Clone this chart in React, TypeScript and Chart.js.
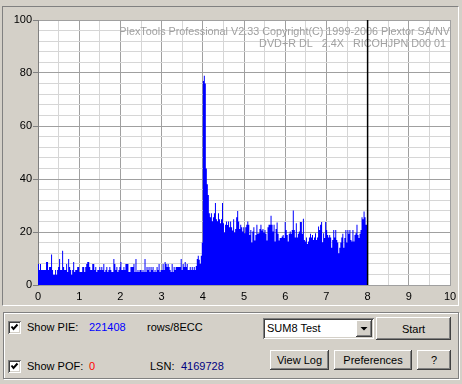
import React, { useEffect, useRef } from "react";
import { Chart, registerables } from "chart.js";

Chart.register(...registerables);

const FONT = '"Liberation Sans", Arial, sans-serif';

// Axis settings
const X_MIN = 0;
const X_MAX = 10;
const X_GRID_STEP = 0.5;
const Y_MIN = 0;
const Y_MAX = 100;
const Y_GRID_STEP = 4;
const Y_LABEL_STEP = 20;

// Scan ranges (in GB) of the two recorded layers
const LAYER0_START = 0;
const LAYER0_END = 4;
const LAYER1_START = 4;
const LAYER1_END = 8;
const CURSOR_X = 8;

// PI errors (SUM8), layer 0: 0 - 4 GB
const PIE_LAYER0 = [
  7.9, 5.7, 7.9, 5.7, 5.7, 5.7, 5.7, 5.7, 8.7, 8.7,
  5.7, 6.8, 6.8, 11.5, 5.7, 3.9, 3.9, 5.7, 3.9, 5.7,
  6.8, 9.8, 5.7, 5.7, 12.9, 6.8, 5.7, 5.7, 7.9, 4.9,
  9.8, 6.8, 5.7, 3.9, 5.7, 8.7, 4.9, 5.7, 5.7, 6.8,
  6.8, 4.9, 4.9, 4.9, 6.8, 6.8, 4.9, 6.8, 7.9, 8.7,
  8.7, 6.8, 5.7, 5.7, 7.9, 7.9, 5.7, 6.8, 4.9, 5.7,
  5.7, 6.8, 5.7, 6.8, 5.7, 7.9, 4.9, 5.7, 6.8, 4.9,
  5.7, 6.8, 5.7, 4.9, 4.9, 9.8, 7.9, 5.7, 6.8, 4.9,
  5.7, 6.8, 8.7, 5.7, 5.7,
  6.8, 5.7, 7.9, 7.9, 7.9, 4.9, 4.9, 6.8, 6.8, 6.8,
  7.9, 4.9, 9.8, 4.9, 5.7, 4.9, 5.7, 5.7, 4.9, 5.7,
  4.9, 9.8, 4.9, 6.8, 5.7, 6.8, 4.9, 6.8, 5.7, 6.8,
  4.9, 5.7, 4.9, 6.8, 5.7, 7.9, 4.9, 5.7, 5.7, 7.9,
  5.7, 8.7, 7.9, 6.8, 7.9, 6.8, 5.7, 4.9, 7.9, 4.9,
  6.8, 5.7, 6.8, 6.8, 6.8, 6.8, 6.8, 9.8, 5.7, 7.9,
  6.8, 8.7, 6.8, 7.9, 5.7, 5.7, 6.8, 5.7, 6.8, 5.7,
  6.8, 5.7, 7.2, 9.8, 11, 9.5, 8, 11, 16,
];

// PI errors (SUM8), layer 1: 4 - 8 GB
const PIE_LAYER1 = [
  77, 79, 76, 44, 38, 34,
  27.1, 25.6, 27.1, 24.1, 25.6, 27.1, 30.9, 24.8, 24.1, 27.1,
  24.8, 23.3, 24.8, 30.9, 23.3, 19.8, 22.7, 24.0, 22.6, 24.0,
  21.8, 24.0, 21.8, 20.6, 24.8, 19.8, 21.1, 25.6, 27.9, 24.0,
  21.1, 22.7, 21.8, 20.2, 21.8, 19.5, 21.8, 22.7, 24.0, 22.7,
  18.9, 20.8, 16.0, 20.2, 21.8, 16.8, 18.9, 22.7, 19.3, 19.5,
  21.1, 22.7, 20.6, 21.1, 19.8, 20.8, 19.3, 16.8, 21.8, 22.7,
  22.7, 26.1, 22.7, 20.2, 22.7, 16.4, 21.1, 23.6, 19.3, 16.8,
  17.7, 17.7, 18.3, 18.9, 17.7, 23.8,
  20.8, 18.9, 16.4, 19.3, 20.2, 19.3, 20.8, 28.1, 20.8, 17.9,
  23.3, 17.9, 19.3, 20.2, 23.8, 23.8, 19.3, 25.0, 17.0, 16.4,
  17.9, 15.5, 16.4, 17.9, 19.3, 17.9, 18.9, 17.0, 17.9, 19.5,
  17.0, 17.9, 22.1, 20.8, 22.7, 23.8, 16.1, 19.5, 17.7, 23.8,
  20.8, 18.9, 17.9, 18.9, 17.9, 14.1, 17.0, 20.8, 17.9, 20.8,
  17.0, 16.0, 12.0, 14.1, 16.0, 17.9, 19.3, 14.1, 17.7, 20.8,
  16.0, 20.8, 19.3, 20.8, 17.0, 16.4, 20.8, 16.4, 18.9, 19.5,
  22.7, 18.9, 17.7, 19.3, 20.8, 25.6, 24.8, 27.7, 25.6, 22.7,
  22.7,
];

const HEADER_LINE_1 = "PlexTools Professional V2.33 Copyright(C) 1999-2006 Plextor SA/NV";
const HEADER_LINE_2 = "DVD+R DL   2.4X   RICOHJPN D00 01";

const PIE_TOTAL = "221408";
const PIE_UNIT = "rows/8ECC";
const POF_TOTAL = "0";
const LSN_VALUE = "4169728";
const TEST_NAME = "SUM8 Test";

function layerPoints(values: number[], start: number, end: number) {
  const step = (end - start) / values.length;
  return values.map((y, i) => ({ x: start + i * step, y }));
}

const CANVAS_W = 462;
const CANVAS_H = 310;

const sunken = {
  boxShadow:
    "inset 1px 1px #808080, inset -1px -1px #ffffff, inset 2px 2px #404040, inset -2px -2px #d4d0c8",
};
const raised = {
  boxShadow:
    "inset -1px -1px #404040, inset 1px 1px #ffffff, inset -2px -2px #808080, inset 2px 2px #d4d0c8",
};

function CheckBox({ left, top }: { left: number; top: number }) {
  return (
    <div
      style={{
        position: "absolute",
        left,
        top,
        width: 13,
        height: 13,
        background: "#fff",
        ...sunken,
      }}
    >
      <svg width={13} height={13} style={{ position: "absolute", left: 0, top: 0 }}>
        <polyline points="3.5,5.5 5.5,8 9.5,3.5" fill="none" stroke="#000" strokeWidth={2} />
      </svg>
    </div>
  );
}

function Button({ left, top, width, height, label }: any) {
  return (
    <div
      style={{
        position: "absolute",
        left,
        top,
        width,
        height,
        background: "#d4d0c8",
        display: "flex",
        alignItems: "center",
        justifyContent: "center",
        color: "#000",
        ...raised,
      }}
    >
      {label}
    </div>
  );
}

function Label({ left, top, text, color }: any) {
  return (
    <div style={{ position: "absolute", left, top, color: color || "#000", lineHeight: "13px", whiteSpace: "pre" }}>
      {text}
    </div>
  );
}

export default function App() {
  const canvasRef = useRef<HTMLCanvasElement | null>(null);

  useEffect(() => {
    const canvas = canvasRef.current;
    if (!canvas) return;

    const points = [
      ...layerPoints(PIE_LAYER0, LAYER0_START, LAYER0_END),
      ...layerPoints(PIE_LAYER1, LAYER1_START, LAYER1_END),
    ];
    points.push({ x: LAYER1_END, y: PIE_LAYER1[PIE_LAYER1.length - 1] });

    const plotBg = {
      id: "plotBg",
      beforeDraw(chart: any) {
        const { ctx, chartArea } = chart;
        ctx.save();
        ctx.fillStyle = "#ffffff";
        ctx.fillRect(chartArea.left, chartArea.top, chartArea.right - chartArea.left, chartArea.bottom - chartArea.top);
        ctx.restore();
      },
    };

    const header = {
      id: "header",
      beforeDatasetsDraw(chart: any) {
        const { ctx, chartArea } = chart;
        ctx.save();
        ctx.font = `10.8px ${FONT}`;
        ctx.fillStyle = "#a0a0a0";
        ctx.textAlign = "right";
        ctx.textBaseline = "middle";
        ctx.fillText(HEADER_LINE_1, chartArea.right, chartArea.top + 12);
        ctx.fillText(HEADER_LINE_2, chartArea.right - 4, chartArea.top + 24);
        ctx.restore();
      },
    };

    const chart = new Chart(canvas, {
      type: "line",
      data: {
        datasets: [
          {
            label: "cursor",
            data: [
              { x: CURSOR_X, y: Y_MIN },
              { x: CURSOR_X, y: Y_MAX },
            ],
            borderColor: "#000000",
            borderWidth: 1.5,
            pointRadius: 0,
            fill: false,
          },
          {
            label: "PIE",
            data: points,
            stepped: true,
            fill: "origin",
            backgroundColor: "#0000ff",
            borderColor: "#0000ff",
            borderWidth: 0,
            pointRadius: 0,
          },
        ],
      },
      options: {
        animation: false,
        responsive: false,
        devicePixelRatio: 1,
        layout: { padding: { left: 0, right: 12, top: 20, bottom: 0 } },
        plugins: { legend: { display: false }, tooltip: { enabled: false } },
        scales: {
          x: {
            type: "linear",
            min: X_MIN,
            max: X_MAX,
            afterFit: (s: any) => {
              s.height = 25;
            },
            ticks: {
              stepSize: X_GRID_STEP,
              autoSkip: false,
              maxRotation: 0,
              padding: 5,
              color: "#000000",
              font: { family: FONT, size: 11 },
              callback: (v: any) => (Number.isInteger(v) ? String(v) : ""),
            },
            grid: {
              color: (c: any) => (Number.isInteger(c.tick?.value) ? "#a0a0a0" : "#d6d6d6"),
              drawTicks: false,
            },
            border: { color: "#a0a0a0" },
          },
          y: {
            type: "linear",
            min: Y_MIN,
            max: Y_MAX,
            afterFit: (s: any) => {
              s.width = 38;
            },
            ticks: {
              stepSize: Y_GRID_STEP,
              autoSkip: false,
              padding: 1,
              color: "#000000",
              font: { family: FONT, size: 11 },
              callback: (v: any) => (v % Y_LABEL_STEP === 0 ? String(v) : ""),
            },
            grid: {
              color: (c: any) => (c.tick?.value % Y_LABEL_STEP === 0 ? "#a0a0a0" : "#d6d6d6"),
              tickColor: (c: any) => (c.tick?.value % Y_LABEL_STEP === 0 ? "#808080" : "rgba(0,0,0,0)"),
              tickLength: 5,
            },
            border: { color: "#808080" },
          },
        },
      },
      plugins: [plotBg, header],
    } as any);

    return () => chart.destroy();
  }, []);

  return (
    <div
      style={{
        position: "absolute",
        left: 0,
        top: 0,
        width: 462,
        height: 384,
        background: "#d4d0c8",
        overflow: "hidden",
        fontFamily: FONT,
        fontSize: 11,
      }}
    >
      {/* chart panel frame */}
      <div
        style={{
          position: "absolute",
          left: 2,
          top: 6,
          width: 457,
          height: 300,
          boxSizing: "border-box",
          borderTop: "1px solid #808080",
          borderLeft: "1px solid #808080",
          borderRight: "1px solid #ffffff",
          borderBottom: "1px solid #ffffff",
        }}
      />
      <canvas
        ref={canvasRef}
        width={CANVAS_W}
        height={CANVAS_H}
        style={{ position: "absolute", left: 0, top: 0, width: CANVAS_W, height: CANVAS_H }}
      />
      {/* control panel frame */}
      <div
        style={{
          position: "absolute",
          left: 3,
          top: 312,
          width: 456,
          height: 67,
          boxSizing: "border-box",
          border: "1px solid #808080",
          boxShadow: "inset 1px 1px #ffffff, 1px 1px #ffffff",
        }}
      />
      <CheckBox left={8} top={321} />
      <Label left={27} top={321} text="Show PIE:" />
      <Label left={89} top={321} text={PIE_TOTAL} color="#0000ff" />
      <Label left={147} top={321} text={PIE_UNIT} />

      <CheckBox left={8} top={360} />
      <Label left={27} top={360} text="Show POF:" />
      <Label left={89} top={360} text={POF_TOTAL} color="#ff0000" />
      <Label left={150} top={360} text="LSN:" />
      <Label left={181} top={360} text={LSN_VALUE} color="#000080" />

      {/* combo box */}
      <div
        style={{
          position: "absolute",
          left: 263,
          top: 318,
          width: 111,
          height: 21,
          background: "#ffffff",
          ...sunken,
        }}
      >
        <div style={{ position: "absolute", left: 4, top: 4, lineHeight: "13px", color: "#000" }}>{TEST_NAME}</div>
        <div
          style={{
            position: "absolute",
            right: 2,
            top: 2,
            width: 16,
            height: 17,
            background: "#d4d0c8",
            ...raised,
          }}
        >
          <svg width={16} height={17} style={{ position: "absolute", left: 0, top: 0 }}>
            <polygon points="4.5,7 11.5,7 8,10.5" fill="#000" />
          </svg>
        </div>
      </div>
      <Button left={376} top={317} width={75} height={23} label="Start" />
      <Button left={270} top={350} width={59} height={20} label="View Log" />
      <Button left={334} top={350} width={78} height={20} label="Preferences" />
      <Button left={417} top={350} width={34} height={20} label="?" />
    </div>
  );
}
